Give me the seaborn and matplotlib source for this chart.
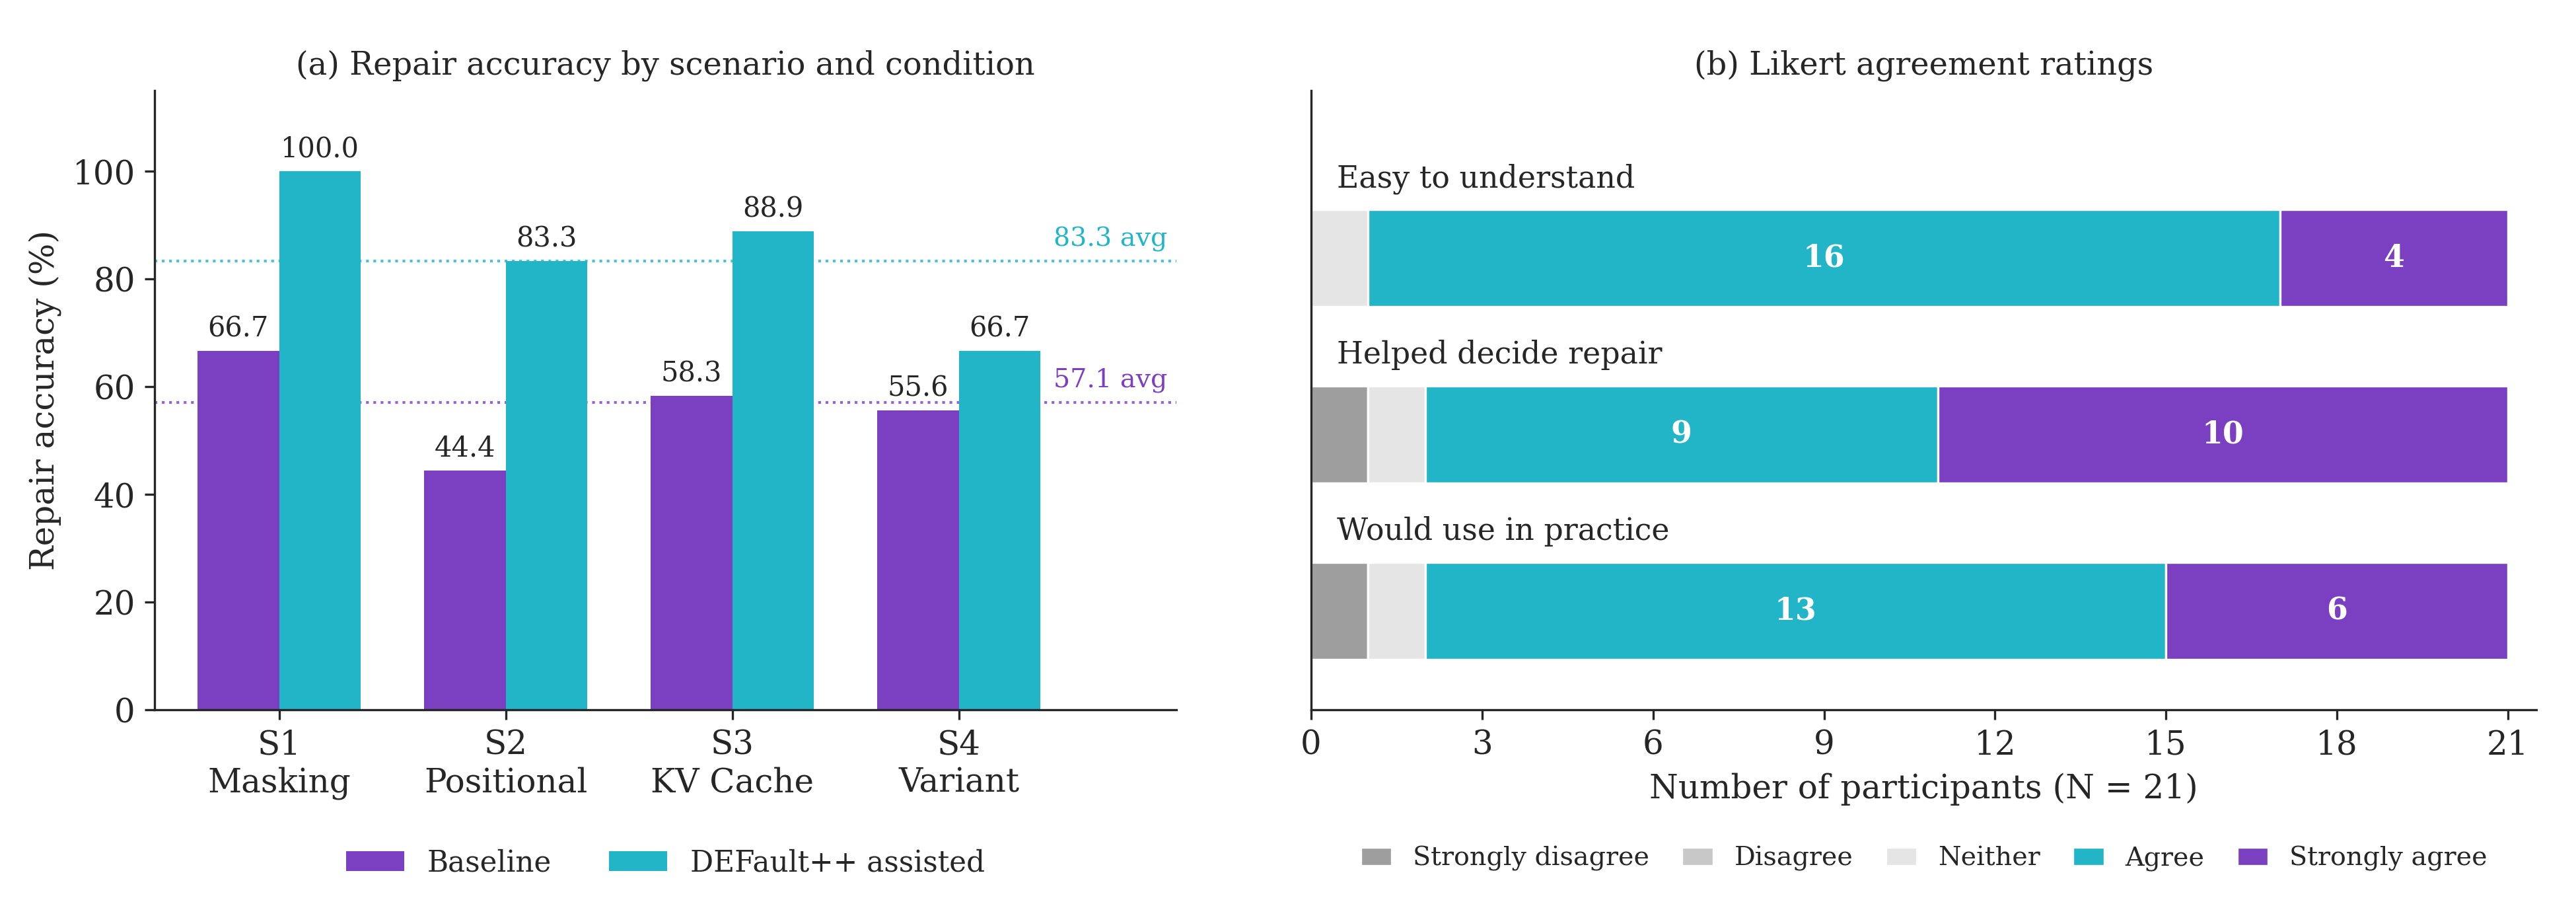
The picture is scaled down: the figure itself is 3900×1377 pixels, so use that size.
import matplotlib
matplotlib.use("Agg")
import matplotlib.pyplot as plt
import seaborn as sns
import pandas as pd
import numpy as np

# --- data ---
scenarios = ["S1\nMasking", "S2\nPositional", "S3\nKV Cache", "S4\nVariant"]
conditions = ["Baseline", "DEFault++ assisted"]
baseline_acc = [66.7, 44.4, 58.3, 55.6]
assisted_acc = [100.0, 83.3, 88.9, 66.7]
avg_acc = [57.1, 83.3]  # baseline, assisted

statements = ["Easy to understand", "Helped decide repair", "Would use in practice"]
likert_levels = ["Strongly disagree", "Disagree", "Neither", "Agree", "Strongly agree"]
strongly_disagree = [0, 1, 1]
disagree = [0, 0, 0]
neither = [1, 1, 1]
agree = [16, 9, 13]
strongly_agree = [4, 10, 6]

PURPLE = "#7B3FC2"
TEAL = "#21B5C7"
likert_colors = ["#9E9E9E", "#C8C8C8", "#E5E5E5", TEAL, PURPLE]

sns.set_style("ticks")
plt.rcParams["font.family"] = ["DejaVu Serif"]

fig = plt.figure(figsize=(13, 4.59), dpi=300)
ax1 = fig.add_axes([0.06, 0.22, 0.3967, 0.6805])
ax2 = fig.add_axes([0.509, 0.22, 0.4756, 0.6805])

# --- (a) grouped bars ---
df = pd.DataFrame({
    "scenario": scenarios * 2,
    "condition": [conditions[0]] * 4 + [conditions[1]] * 4,
    "accuracy": baseline_acc + assisted_acc,
})
sns.barplot(data=df, x="scenario", y="accuracy", hue="condition",
            palette=[PURPLE, TEAL], width=0.72, gap=0, saturation=1,
            linewidth=0, edgecolor="none", ax=ax1)
for cont in ax1.containers:
    ax1.bar_label(cont, fmt="%.1f", padding=3, fontsize=10)

for val, col in zip(avg_acc, [PURPLE, TEAL]):
    ax1.axhline(val, color=col, ls=":", lw=1, alpha=0.8, zorder=0)
    ax1.text(3.92, val + 1.8, f"{val:.1f} avg", color=col, fontsize=9.5,
             ha="right", va="bottom")

ax1.set_xlim(-0.55, 3.96)
ax1.set_ylim(0, 115)
ax1.set_xlabel("")
ax1.set_ylabel("Repair accuracy (%)", fontsize=12)
ax1.set_title("(a) Repair accuracy by scenario and condition", fontsize=11.5)
ax1.tick_params(axis="both", labelsize=12)
sns.despine(ax=ax1)
ax1.legend(loc="upper center", bbox_to_anchor=(0.5, -0.182), ncol=2,
           frameon=False, fontsize=10.5, columnspacing=2)

# --- (b) stacked Likert bars ---
counts = np.array([strongly_disagree, disagree, neither, agree, strongly_agree])
ypos = np.arange(len(statements))
left = np.zeros(len(statements))
for lvl, row, col in zip(likert_levels, counts, likert_colors):
    ax2.barh(ypos, row, left=left, height=0.55, color=col,
             edgecolor="white", linewidth=0.8, label=lvl)
    for y, l, v in zip(ypos, left, row):
        if v >= 3:
            ax2.text(l + v / 2, y, str(v), ha="center", va="center",
                     color="white", fontsize=11, fontweight="bold")
    left = left + row

for y, s in zip(ypos, statements):
    ax2.text(0.45, y - 0.45, s, ha="left", va="center", fontsize=11)

ax2.set_xlim(0, 21.5)
ax2.set_ylim(2.56, -0.95)
ax2.set_xticks(range(0, 22, 3))
ax2.set_yticks([])
ax2.tick_params(axis="x", labelsize=12)
ax2.set_xlabel("Number of participants (N = 21)", fontsize=12)
ax2.set_title("(b) Likert agreement ratings", fontsize=11.5)
sns.despine(ax=ax2)
ax2.legend(loc="upper center", bbox_to_anchor=(0.5, -0.182), ncol=5,
           frameon=False, fontsize=9.5, handlelength=1.2, columnspacing=1.25)

fig.savefig("out.png", dpi=300)
